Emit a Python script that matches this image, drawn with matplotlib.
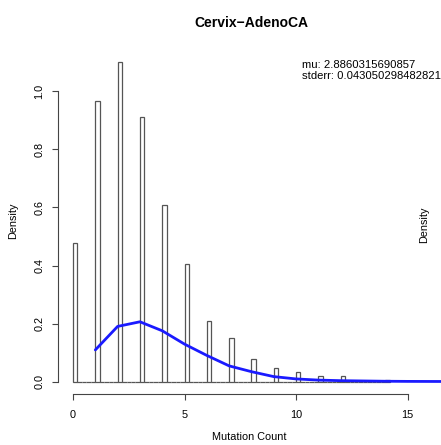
import numpy as np
import matplotlib
matplotlib.use("Agg")
import matplotlib.pyplot as plt
from matplotlib.transforms import blended_transform_factory

plt.rcParams['font.family'] = ['Liberation Sans', 'DejaVu Sans']

# histogram densities at each mutation count (bins 0.2 wide)
counts = [0, 1, 2, 3, 4, 5, 6, 7, 8, 9, 10, 11, 12, 13, 14]
density = [0.479, 0.967, 1.102, 0.913, 0.608, 0.405, 0.209, 0.150,
           0.079, 0.047, 0.032, 0.019, 0.018, 0.0, 0.004]

# fitted curve
fit_x = [1, 2, 3, 4, 5, 6, 7, 8, 9, 10, 11, 12, 13, 14, 15, 16, 17, 18]
fit_y = [0.109, 0.190, 0.206, 0.175, 0.129, 0.090, 0.054, 0.034, 0.017,
         0.009, 0.005, 0.003, 0.002, 0.001, 0.0005, 0.0003, 0.0001, 0.0]

x_ticks = [0, 5, 10, 15]
y_ticks = [0.0, 0.2, 0.4, 0.6, 0.8, 1.0]
y_tick_labels = ['0.0', '0.2', '0.4', '0.6', '0.8', '1.0']

mu_text = "mu: 2.8860315690857"
se_text = "stderr: 0.043050298482821"

W, H = 441, 445
fig = plt.figure(figsize=(W / 100, H / 100), dpi=100)
ax = fig.add_axes([58.3 / W, (H - 394.3) / H, 1 - 58.3 / W, (394.3 - 49.7) / H])

# every 0.2-wide bin from 0 to 14.2, empty bins drawn flat like R does
edges = np.round(np.arange(0, 14.2, 0.2), 1)
heights = np.zeros(len(edges))
for c, d in zip(counts, density):
    heights[int(round(c / 0.2))] = d
ax.bar(edges, heights, width=0.2, align='edge', fill=False,
       edgecolor='#555555', linewidth=0.9)

ax.plot(fit_x, fit_y, color='#1a1aff', linewidth=2.0, solid_capstyle='round')

ax.set_xlim(-0.66, 16.5)
ax.set_ylim(-0.044, 1.144)

for s in ['top', 'right']:
    ax.spines[s].set_visible(False)
ax.spines['bottom'].set_bounds(0, 15)
ax.spines['left'].set_bounds(0, 1)
for s in ['bottom', 'left']:
    ax.spines[s].set_color('#444444')
    ax.spines[s].set_linewidth(0.8)

ax.set_xticks(x_ticks)
ax.set_yticks(y_ticks)
ax.tick_params(axis='x', length=4.2, width=0.8, color='#444444', labelsize=7.8, pad=7)
ax.tick_params(axis='y', length=4.2, width=0.8, color='#444444', labelleft=False)

# rotated y tick labels, R style, placed left of the axis
trans = blended_transform_factory(fig.transFigure, ax.transData)
for yv, lab in zip(y_ticks, y_tick_labels):
    ax.text(39.5 / W, yv, lab, transform=trans, rotation=90,
            ha='center', va='center', fontsize=7.8)

fig.text(251 / W, 1 - 23 / H, "Cervix\u2212AdenoCA", ha='center', va='center',
         fontsize=10, fontweight='bold')
fig.text(249 / W, 1 - 437 / H, "Mutation Count", ha='center', va='center', fontsize=7.8)
fig.text(12.7 / W, 1 - 221 / H, "Density", ha='center', va='center', rotation=90, fontsize=7.8)
fig.text(424 / W, 1 - 225 / H, "Density", ha='center', va='center', rotation=90, fontsize=7.8)
fig.text(301.7 / W, 1 - 65 / H, mu_text, ha='left', va='center', fontsize=8.1)
fig.text(301.7 / W, 1 - 76 / H, se_text, ha='left', va='center', fontsize=8.1)

fig.savefig("out.png", dpi=100)
